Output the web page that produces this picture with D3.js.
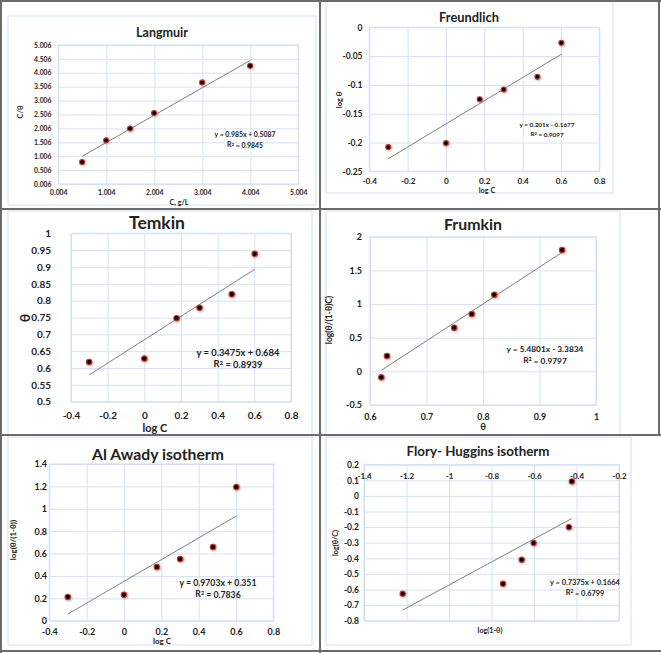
<!DOCTYPE html>
<html><head><meta charset="utf-8">
<script src="https://cdn.jsdelivr.net/npm/d3@7"></script>
<style>
body{margin:0;background:#fff}
svg{display:block}
text{font-family:Lato,"Open Sans",sans-serif;fill:#222}
</style>
</head><body>
<svg id="c" width="661" height="653"></svg>
<script>
// ---------------- DATA ----------------
const langmuirC      = [0.5, 1.0, 1.5, 2.0, 3.0, 4.0];
const langmuirCTheta = [0.797, 1.577, 2.0, 2.56, 3.66, 4.26];
const langmuirXTicks = [0.004, 1.004, 2.004, 3.004, 4.004, 5.004];
const langmuirYTicks = [0.006, 0.506, 1.006, 1.506, 2.006, 2.506, 3.006, 3.506, 4.006, 4.506, 5.006];

const freundlichLogC     = [-0.301, 0, 0.176, 0.301, 0.477, 0.602];
const freundlichLogTheta = [-0.208, -0.201, -0.125, -0.108, -0.086, -0.027];
const freundlichXTicks   = [-0.4, -0.2, 0, 0.2, 0.4, 0.6, 0.8];
const freundlichYTicks   = [-0.25, -0.2, -0.15, -0.1, -0.05, 0];

const temkinLogC   = [-0.301, 0, 0.176, 0.301, 0.477, 0.602];
const temkinTheta  = [0.618, 0.628, 0.748, 0.779, 0.819, 0.939];
const temkinXTicks = [-0.4, -0.2, 0, 0.2, 0.4, 0.6, 0.8];
const temkinYTicks = [0.5, 0.55, 0.6, 0.65, 0.7, 0.75, 0.8, 0.85, 0.9, 0.95, 1];

const frumkinTheta  = [0.62, 0.63, 0.749, 0.78, 0.82, 0.94];
const frumkinY      = [-0.089, 0.228, 0.648, 0.851, 1.139, 1.802];
const frumkinXTicks = [0.6, 0.7, 0.8, 0.9, 1];
const frumkinYTicks = [-0.5, 0, 0.5, 1, 1.5, 2];

const awadyLogC   = [-0.301, 0, 0.176, 0.301, 0.477, 0.602];
const awadyY      = [0.212, 0.232, 0.48, 0.551, 0.658, 1.194];
const awadyXTicks = [-0.4, -0.2, 0, 0.2, 0.4, 0.6, 0.8];
const awadyYTicks = [0, 0.2, 0.4, 0.6, 0.8, 1, 1.2, 1.4];

const floryX      = [-1.218, -0.746, -0.658, -0.602, -0.436, -0.422];
const floryY      = [-0.627, -0.563, -0.409, -0.302, -0.2, 0.093];
const floryXTicks = [-1.4, -1.2, -1, -0.8, -0.6, -0.4, -0.2];
const floryYTicks = [-0.8, -0.7, -0.6, -0.5, -0.4, -0.3, -0.2, -0.1, 0, 0.1, 0.2];

// trend line coefficients [slope, intercept]
const langmuirFit   = [0.985, 0.5087];
const freundlichFit = [0.201, -0.1677];
const temkinFit     = [0.3475, 0.684];
const frumkinFit    = [5.4801, -3.3834];
const awadyFit      = [0.9703, 0.351];
const floryFit      = [0.7375, 0.1664];

// ---------------- DRAW ----------------
const svg = d3.select("#c");
const defs = svg.append("defs");
const f = defs.append("filter").attr("id","sh").attr("x","-100%").attr("y","-100%").attr("width","300%").attr("height","300%");
f.append("feDropShadow").attr("dx",0.8).attr("dy",1).attr("stdDeviation",1.1)
 .attr("flood-color","#b06060").attr("flood-opacity",0.55);

const GRID = "#d6e2f1";
const BOX  = "#dbe5f3";

// chart-area boxes
[[8,16,308,189],[326,-1,287,194],[8,211,304,230],[326,211,294,230],[8,437,304,208],[326,437,305,208]]
 .forEach(b => svg.append("rect").attr("x",b[0]).attr("y",b[1]).attr("width",b[2]).attr("height",b[3])
   .attr("fill","#fff").attr("stroke",BOX).attr("stroke-width",1.2));

function fitText(sel, target){
  const w = sel.node().getComputedTextLength();
  const fs = parseFloat(sel.attr("font-size"));
  const nfs = fs * target / w;
  sel.attr("font-size", nfs);
  return nfs;
}
const numFmt = d => (Math.round(d*1000)/1000).toString();

function panel(c){
  const x = d3.scaleLinear().domain(c.xd).range(c.xr);
  const y = d3.scaleLinear().domain(c.yd).range(c.yr);
  const g = svg.append("g");
  const L = c.xr[0], R = c.xr[1], T = c.yr[1], B = c.yr[0];
  // grid via axes
  g.append("g").attr("transform",`translate(0,${B})`)
   .call(d3.axisBottom(x).tickValues(c.xTicks).tickSize(-(B-T)).tickFormat(""))
   .call(s=>{s.select(".domain").remove(); s.selectAll("line").attr("stroke",GRID).attr("stroke-width",1);});
  g.append("g").attr("transform",`translate(${L},0)`)
   .call(d3.axisLeft(y).tickValues(c.yTicks).tickSize(-(R-L)).tickFormat(""))
   .call(s=>{s.select(".domain").remove(); s.selectAll("line").attr("stroke",GRID).attr("stroke-width",1);});
  g.append("rect").attr("x",L).attr("y",T).attr("width",R-L).attr("height",B-T)
   .attr("fill","none").attr("stroke",GRID).attr("stroke-width",1.2);
  // tick labels
  const yAx = g.append("g").attr("transform",`translate(${L},0)`)
   .call(d3.axisLeft(y).tickValues(c.yTicks).tickSize(0).tickPadding(L-c.yLabX).tickFormat(c.yFmt||numFmt));
  yAx.select(".domain").remove();
  yAx.selectAll("text").attr("font-size",c.tick).attr("font-weight","bold").attr("fill","#222")
     .attr("font-family","Lato,sans-serif");
  const xAx = g.append("g").attr("transform",`translate(0,0)`)
   .call(d3.axisBottom(x).tickValues(c.xTicks).tickSize(0).tickFormat(c.xFmt||numFmt));
  xAx.select(".domain").remove();
  xAx.selectAll("text").attr("y",c.xLabY).attr("dy","0.35em").attr("font-size",c.xtick||c.tick).attr("font-weight","bold")
     .attr("fill","#222").attr("font-family","Lato,sans-serif");
  // trend line
  const x0 = d3.min(c.xs), x1 = d3.max(c.xs);
  g.append("line").attr("x1",x(x0)).attr("y1",y(c.fit[0]*x0+c.fit[1]))
   .attr("x2",x(x1)).attr("y2",y(c.fit[0]*x1+c.fit[1]))
   .attr("stroke","#7f7f7f").attr("stroke-width",1);
  // markers
  const pts = c.xs.map((v,i)=>[v,c.ys[i]]);
  g.append("g").attr("filter","url(#sh)").selectAll("circle").data(pts).join("circle")
   .attr("cx",d=>x(d[0])).attr("cy",d=>y(d[1])).attr("r",c.mr||2.7)
   .attr("fill","#000").attr("stroke","#c0392b").attr("stroke-width",1.1);
  // title
  const t = g.append("text").attr("x",c.title[1]).attr("y",c.title[2]).attr("dy","0.35em")
   .attr("text-anchor","middle").attr("font-weight","bold").attr("font-size",14).text(c.title[0]);
  fitText(t, c.title[3]);
  // equation
  const e1 = g.append("text").attr("x",c.eq[2]).attr("y",c.eq[3]).attr("dy","0.35em")
   .attr("text-anchor","middle").attr("font-weight","bold").attr("font-size",9).text(c.eq[0]);
  const efs = fitText(e1, c.eq[5]);
  const e2 = g.append("text").attr("x",c.eq[2]).attr("y",c.eq[4]).attr("dy","0.35em")
   .attr("text-anchor","middle").attr("font-weight","bold").attr("font-size",efs);
  e2.append("tspan").text("R");
  e2.append("tspan").attr("dy","-0.35em").attr("font-size",efs*0.65).text("2");
  e2.append("tspan").attr("dy","0.35em").text(" = " + c.eq[1]);
  // axis titles
  g.append("text").attr("x",c.xt[1]).attr("y",c.xt[2]).attr("dy","0.35em").attr("text-anchor","middle")
   .attr("font-weight","bold").attr("font-size",c.xt[3]).text(c.xt[0]);
  g.append("text").attr("transform",`translate(${c.yt[1]},${c.yt[2]}) rotate(-90)`).attr("dy","0.35em")
   .attr("text-anchor","middle").attr("font-weight","bold").attr("font-size",c.yt[3]).text(c.yt[0]);
}

panel({xd:[0.004,5.004], xr:[58.3,298.3], yd:[0.006,5.006], yr:[184,45],
  xTicks:langmuirXTicks, yTicks:langmuirYTicks, xFmt:d=>d.toFixed(3), yFmt:d=>d.toFixed(3),
  xs:langmuirC, ys:langmuirCTheta, fit:langmuirFit, tick:6.8, yLabX:51.5, xLabY:193,
  title:["Langmuir",162,33,52], eq:["y = 0.985x + 0.5087","0.9845",245,135,145,61],
  xt:["C, g/L",179,202,7.2], yt:["C/θ",20,112,7.5], mr:2.5});

panel({xd:[-0.4,0.8], xr:[369.3,599.3], yd:[-0.25,0], yr:[171.3,27.3],
  xTicks:freundlichXTicks, yTicks:freundlichYTicks,
  xs:freundlichLogC, ys:freundlichLogTheta, fit:freundlichFit, tick:8.5, xtick:8.2, yLabX:362.5, xLabY:181.3,
  title:["Freundlich",469,17,60], eq:["y = 0.201x - 0.1677","0.9097",547,125,133.8,55],
  xt:["log C",487,190.2,7.3], yt:["log θ",339,100,7.5], mr:2.5});

panel({xd:[-0.4,0.8], xr:[71,291], yd:[0.5,1], yr:[401.7,233.3],
  xTicks:temkinXTicks, yTicks:temkinYTicks,
  xs:temkinLogC, ys:temkinTheta, fit:temkinFit, tick:10, yLabX:51, xLabY:415,
  title:["Temkin",157,223,56], eq:["y = 0.3475x + 0.684","0.8939",238,353,363.5,83],
  xt:["log C",155,428,11], yt:["θ",25,318,14], mr:2.7});

panel({xd:[0.6,1], xr:[370,596], yd:[-0.5,2], yr:[405,236.7],
  xTicks:frumkinXTicks, yTicks:frumkinYTicks,
  xs:frumkinTheta, ys:frumkinY, fit:frumkinFit, tick:9, xtick:8.8, yLabX:362, xLabY:416.5,
  title:["Frumkin",473,224,58], eq:["y = 5.4801x - 3.3834","0.9797",545,349,360,77],
  xt:["θ",483,427,9.5], yt:["log(θ/(1-θ)C)",329,320,8.5], mr:2.7});

panel({xd:[-0.4,0.8], xr:[49.3,273.3], yd:[0,1.4], yr:[620.7,464],
  xTicks:awadyXTicks, yTicks:awadyYTicks,
  xs:awadyLogC, ys:awadyY, fit:awadyFit, tick:9, yLabX:47, xLabY:632,
  title:["Al Awady isotherm",158,454,132], eq:["y = 0.9703x + 0.351","0.7836",218,583,594,77],
  xt:["log C",162,641,8], yt:["log(θ/(1-θ))",13,540,8], mr:2.7});

panel({xd:[-1.4,-0.2], xr:[364,619], yd:[-0.8,0.2], yr:[620.7,464.7],
  xTicks:floryXTicks, yTicks:floryYTicks,
  xs:floryX, ys:floryY, fit:floryFit, tick:8.5, xtick:8, yLabX:359, xLabY:476.5,
  title:["Flory- Huggins isotherm",478,451,143], eq:["y = 0.7375x + 0.1664","0.6799",585,582,592,70],
  xt:["log(1-θ)",490,630,7.2], yt:["log(θ/C)",335,543,7.2], mr:2.6});

// panel frame lines
const FR = "#6b6b6b";
[[0,1,661,1],[0,209,661,209],[0,435,661,435],[0,651,661,651],[1,0,1,653],[320,0,320,653],[659,0,659,435]]
 .forEach(l => svg.append("line").attr("x1",l[0]).attr("y1",l[1]).attr("x2",l[2]).attr("y2",l[3])
   .attr("stroke",FR).attr("stroke-width",2));
</script>
</body></html>
